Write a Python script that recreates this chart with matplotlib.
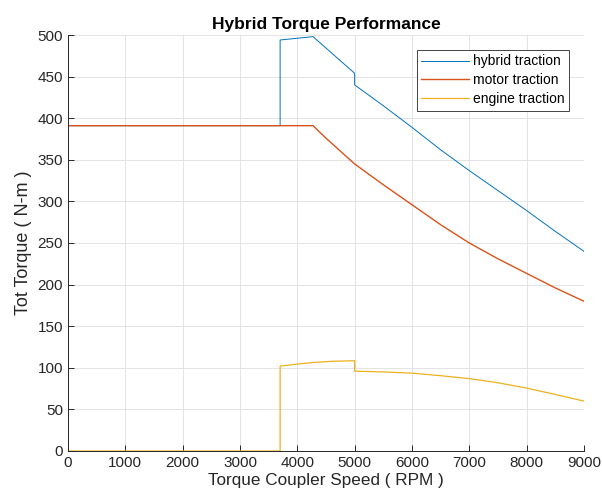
import matplotlib
matplotlib.use("Agg")
import matplotlib.pyplot as plt

plt.rcParams['font.family'] = ['Liberation Sans', 'DejaVu Sans']

# motor traction (N-m) vs torque coupler speed (RPM)
motor_rpm = [0, 1000, 2000, 3000, 4000, 4274, 4500, 5000, 5500, 6000, 6500, 7000, 7500, 8000, 8500, 9000]
motor_tq = [391, 391, 391, 391, 391, 391, 376, 345, 320, 296, 272, 250, 231, 213.5, 196, 180]

# engine traction
engine_rpm = [0, 3700, 3700, 4000, 4300, 4600, 5000, 5000, 5500, 6000, 6500, 7000, 7500, 8000, 8500, 9000]
engine_tq = [0, 0, 102, 104.5, 106.5, 107.8, 108.5, 96, 95, 93.6, 90.5, 87, 82, 75.6, 68, 60]

# hybrid traction
hybrid_rpm = [0, 3700, 3700, 4274, 5000, 5000, 5500, 6000, 6500, 7000, 7500, 8000, 8500, 9000]
hybrid_tq = [391, 391, 494, 498, 454, 440, 415, 389, 362, 337, 313, 289, 264, 240]

xticks = list(range(0, 9001, 1000))
yticks = list(range(0, 501, 50))

fig = plt.figure(figsize=(6.02, 5.0), dpi=100)
ax = fig.add_axes([0.113, 0.098, 0.857, 0.832])

ax.plot(hybrid_rpm, hybrid_tq, color='#0072BD', lw=0.7, label='hybrid traction')
ax.plot(motor_rpm, motor_tq, color='#D95319', lw=1.0, label='motor traction')
ax.plot(engine_rpm, engine_tq, color='#EDB120', lw=0.9, label='engine traction')

ax.set_xlim(0, 9000)
ax.set_ylim(0, 500)
ax.set_xticks(xticks)
ax.set_yticks(yticks)
ax.grid(True, color='#E3E3E3', lw=0.7)
ax.set_axisbelow(True)

for s in ['top', 'right']:
    ax.spines[s].set_visible(False)
for s in ['left', 'bottom']:
    ax.spines[s].set_color('#262626')
    ax.spines[s].set_linewidth(0.7)
ax.tick_params(direction='in', length=4, width=0.7, colors='#262626', labelsize=11)

ax.set_xlabel('Torque Coupler Speed ( RPM )', fontsize=12.3, color='#262626', labelpad=2)
ax.set_ylabel('Tot Torque ( N-m )', fontsize=13, color='#262626', labelpad=4)
ax.set_title('Hybrid Torque Performance', fontsize=12.5, fontweight='bold', pad=4)

leg = ax.legend(loc='upper right', fontsize=10, handlelength=3.4, handletextpad=0.3,
                borderaxespad=1.05, fancybox=False, framealpha=1, labelspacing=0.35,
                borderpad=0.35)
leg.get_frame().set_edgecolor('#262626')
leg.get_frame().set_linewidth(0.6)

fig.savefig('out.png', dpi=100)
